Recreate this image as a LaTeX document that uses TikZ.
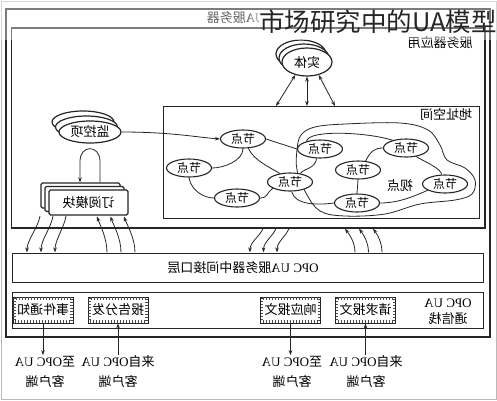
\documentclass[tikz,border=0pt]{standalone}
\usepackage{fontspec}
\usepackage{graphicx}
\setmainfont{Liberation Serif}
\newfontfamily\cjk{Noto Sans CJK SC}
\usetikzlibrary{shapes.geometric,arrows.meta,calc}
\newcommand\lat[1]{{\rmfamily #1}}
\newcommand\mr[1]{\scalebox{-1}[1]{#1}}
\pgfdeclarelayer{bg}
\pgfsetlayers{bg,main}
\begin{document}
\begin{tikzpicture}[x=1pt,y=-1pt,
  frm/.style={draw=black!85,line width=1.2pt},
  arr/.style={draw=black!85,line width=0.8pt,-{Stealth[length=5pt,width=3.6pt]}},
  darr/.style={draw=black!85,line width=0.8pt,{Stealth[length=5pt,width=3.6pt]}-{Stealth[length=5pt,width=3.6pt]}},
  edg/.style={draw=black!85,line width=0.8pt},
  f13/.style={font=\cjk\fontsize{13pt}{16pt}\selectfont},
  txt/.style={f13,inner sep=1pt,xscale=-1,align=center},
  lab/.style={txt,font=\cjk\fontsize{13pt}{20pt}\selectfont},
  nd/.style={ellipse,draw=black!85,line width=1.1pt,fill=white,minimum width=45pt,minimum height=18pt,inner sep=0pt,font=\cjk\fontsize{12pt}{14pt}\selectfont},
  ent/.style={ellipse,draw=black!85,line width=1.2pt,fill=white,minimum width=50pt,minimum height=28pt,inner sep=0pt,f13},
  mon/.style={ellipse,draw=black!85,line width=1.2pt,fill=white,minimum width=62pt,minimum height=22pt,inner sep=0pt,f13},
  sub/.style={draw=black!85,line width=1.2pt,fill=white,rounded corners=1.5pt,minimum width=79pt,minimum height=25pt,inner sep=0pt,f13},
  msg/.style={draw=black!85,line width=1pt,fill=white,minimum width=60pt,minimum height=26pt,inner sep=0pt,f13},
  tick/.style={draw=black!70,line width=2.4pt,dash pattern=on 0.6pt off 2.4pt},
]
\useasboundingbox (0,0) rectangle (497,400);
\begin{pgfonlayer}{bg}
\fill[white] (0,0) rectangle (497,400);
\end{pgfonlayer}
\draw[gray!55,line width=1pt] (1,1) rectangle (496,399);
% frames
\draw[frm] (6,9) rectangle (490,337);
\draw[frm] (11.5,28) rectangle (485,228);
\node[txt] (srvlbl) at (250,18) {\lat{OPC UA}服务器};
\node[txt] (applbl) at (440,43) {服务器应用};

% entity
\node[ent] (entC) at (301,54) {};
\node[ent] (entB) at (304,58) {};
\node[ent] (ent) at (307,62) {\mr{实体}};

% address space
\node[frm,minimum width=316pt,minimum height=112pt,anchor=north west,inner sep=0pt] (addr) at (163,106) {};
\node[txt] (addrlbl) at (446,115) {地址空间};
\draw[darr] (ent.228) -- ($(addr.north west)+(113,0)$);
\draw[darr] (ent.south) -- (addr.north -| ent.south);
\draw[darr] (ent.312) -- ($(addr.north west)+(172,0)$);

% nodes
\node[nd] (N1) at (243,139) {\mr{节点}};
\node[nd] (N2) at (189,168) {\mr{节点}};
\node[nd] (N3) at (237,198) {\mr{节点}};
\node[nd] (N4) at (290,182) {\mr{节点}};
\node[nd] (N5) at (320,149) {\mr{节点}};
\node[nd] (N6) at (358,170) {\mr{节点}};
\node[nd] (N7) at (406,148) {\mr{节点}};
\node[nd] (N8) at (357,203) {\mr{节点}};
\node[nd] (N9) at (445,184) {\mr{节点}};
\node[txt] (view) at (400,186) {视点};

\begin{pgfonlayer}{bg}
\draw[edg] (N1.south) .. controls +(0,12) and +(12,0) .. (N2.east);
\draw[edg] (N2.south) .. controls +(2,13) and +(-10,0) .. (N3.west);
\draw[edg] (N1.-60) .. controls +(5,12) and +(-8,-5) .. (N4.140);
\draw[edg] (N3.east) .. controls +(8,0) and +(-6,4) .. (N4.200);
\draw[edg] (N1.east) -- (N5.west);
\draw[edg] (N5.250) .. controls +(-1,10) and +(4,-5) .. (N4.40);
\draw[edg] (N4.-80) .. controls +(3,14) and +(-15,2) .. (N8.west);
\draw[edg] (N6.50) .. controls +(5,-10) and +(-8,0) .. (N7.west);
\draw[edg] (N7.-40) .. controls +(8,5) and +(0,-6) .. (N9.110);
\draw[edg] (N6.south) -- (N8.north);
\draw[edg] (N8.east) .. controls +(20,0) and +(-12,5) .. (N9.200);
\draw[edg] (N5.150) .. controls +(2,-12) and +(-25,-8) .. (N7.150);
\draw[edg] plot[smooth cycle,tension=0.6] coordinates {(297,170) (297,150) (301,135) (315,127) (345,124) (400,123) (428,130) (440,145) (447,160) (465,168) (475,180) (472,194) (455,200) (420,204) (385,214) (345,216) (320,211) (306,193)};
\end{pgfonlayer}

% monitored item
\node[mon] (monC) at (83,122) {};
\node[mon] (monB) at (86.5,127) {};
\node[mon] (mon) at (90,132) {\mr{监控项}};
\draw[arr] (mon.east) .. controls (170,132) and (195,137) .. (N1.west);

% subscription
\node[sub] (subC) at (80.5,195.5) {};
\node[sub] (subB) at (84.5,199) {};
\node[sub] (sub) at (88.5,202.5) {\mr{订阅模块}};
\draw[arr] ($(subC.north)+(19.5,0)$) -- ++(0,-21) .. controls +(0,-17) and +(0,-17) .. ++(-20,0) -- ++(0,21);

% interface layer
\node[frm,minimum width=471pt,minimum height=29pt,anchor=north west,inner sep=0pt] (iface) at (12,253) {};
\node[txt] (ifacelbl) at (243,268) {\lat{OPC UA}服务器中间接口层};

% curved arrows
\foreach \i in {0,1,2} {
  \draw[arr] ({40+13*\i},216) .. controls ({38+13*\i},228) and ({27+14*\i},240) .. ({27+14*\i},252.4);
  \draw[arr] ({107+14*\i},252.4) .. controls ({107+14*\i},238) and ({100+13.5*\i},225) .. ({97+13.5*\i},216.5);
  \draw[arr] ({263+13*\i},228.6) .. controls ({260+13*\i},236) and ({250+13.5*\i},242) .. ({250+13.5*\i},252.4);
  \draw[arr] ({355+13.5*\i},252.4) .. controls ({355+13.5*\i},242) and ({349+14*\i},234) .. ({345+14*\i},228.6);
}

% communication stack
\node[frm,minimum width=471pt,minimum height=36pt,anchor=north west,inner sep=0pt] (stack) at (12,292) {};
\node[txt] (stacklbl) at (448,311.5) {\lat{OPC UA}\\通信栈};
\node[msg] (evt) at (43,310) {\mr{事件通知}};
\node[msg] (rpt) at (118,310) {\mr{报告分发}};
\node[msg] (rsp) at (290.5,310) {\mr{响应报文}};
\node[msg] (req) at (365.5,310) {\mr{请求报文}};
\foreach \n in {evt,rpt,rsp,req}
  \draw[tick] ($(\n.center)+(-28.6,-11.6)$) rectangle ($(\n.center)+(28.6,11.6)$);

% client labels
\node[lab] (toA) at (45,372) {至\lat{OPC UA}\\客户端};
\node[lab] (frA) at (118,372) {来自\lat{OPC UA}\\客户端};
\node[lab] (toB) at (292,372) {至\lat{OPC UA}\\客户端};
\node[lab] (frB) at (366,372) {来自\lat{OPC UA}\\客户端};
\draw[arr] (evt.south) -- (evt.south |- toA.north);
\draw[arr] (rpt.south |- frA.north) -- (rpt.south);
\draw[arr] (rsp.south) -- (rsp.south |- toB.north);
\draw[arr] (req.south |- frB.north) -- (req.south);

% faded top band and title
\fill[white,opacity=0.4] (0,0) rectangle (497,39.5);
\fill[white] (259,11) rectangle (330,27);
\node[anchor=base west,font=\cjk\fontsize{25.5pt}{30pt}\selectfont,inner sep=0pt,text=black!85] (title) at (259,31) {市场研究中的UA模型};
\end{tikzpicture}
\end{document}
